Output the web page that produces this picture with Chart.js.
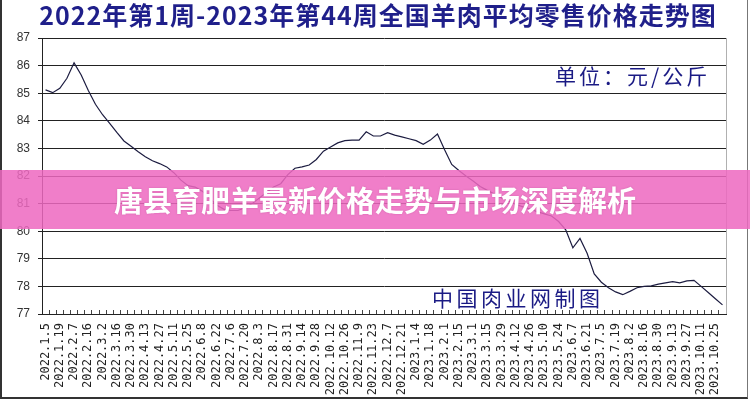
<!DOCTYPE html>
<html><head><meta charset="utf-8">
<script src="https://cdn.jsdelivr.net/npm/chart.js@4/dist/chart.umd.min.js"></script>
<style>
html,body{margin:0;padding:0;background:#fff;}
#wrap{position:relative;width:750px;height:400px;overflow:hidden;background:#fff;}
canvas{position:absolute;left:0;top:0;}
#title{position:absolute;left:0;top:2px;width:756px;text-align:center;font-family:"Noto Sans CJK SC";font-weight:700;font-size:25px;line-height:1;letter-spacing:1px;color:#1f1f8a;white-space:nowrap;}
.note{position:absolute;font-family:"Noto Sans CJK SC";color:#1a1a84;white-space:nowrap;line-height:1;}
#unit{left:555px;top:65px;font-size:21px;letter-spacing:3px;}
#src{left:432px;top:287px;font-size:21px;letter-spacing:3.5px;}
#frame{position:absolute;left:0;top:0;width:748px;height:399px;border-left:2px solid #333;border-right:1px solid #777;border-bottom:2px solid #333;box-sizing:border-box;pointer-events:none;}
#banner{position:absolute;left:0;top:170px;width:750px;height:59px;background:rgba(238,105,192,0.86);color:#fff;font-family:"Noto Sans CJK SC";font-weight:700;font-size:29px;line-height:59px;text-align:center;text-shadow:0 0 2px rgba(120,0,80,0.25);}
</style>
</head>
<body>
<div id="wrap">
<canvas id="c" width="750" height="400" style="width:750px;height:400px"></canvas>
<div id="frame"></div>
<div id="title"></div>
<div class="note" id="unit">单位：元/公斤</div>
<div class="note" id="src">中国肉业网制图</div>
<div id="banner">唐县育肥羊最新价格走势与市场深度解析</div>
</div>
<script>
const titleText = '2022年第1周-2023年第44周全国羊肉平均零售价格走势图';
const tickLabels = [
 '2022.1.5','2022.1.19','2022.2.7','2022.2.16','2022.3.2','2022.3.16','2022.3.30','2022.4.13',
 '2022.4.27','2022.5.11','2022.5.25','2022.6.8','2022.6.22','2022.7.6','2022.7.20','2022.8.3',
 '2022.8.17','2022.8.31','2022.9.14','2022.9.28','2022.10.12','2022.10.26','2022.11.9','2022.11.23',
 '2022.12.7','2022.12.21','2023.1.4','2023.1.18','2023.2.1','2023.2.15','2023.3.1','2023.3.15',
 '2023.3.29','2023.4.12','2023.4.26','2023.5.10','2023.5.24','2023.6.7','2023.6.21','2023.7.5',
 '2023.7.19','2023.8.2','2023.8.16','2023.8.30','2023.9.13','2023.9.27','2023.10.11','2023.10.25'
];
// weekly average retail price (yuan/kg), 96 weeks
const prices = [
 85.12,85.02,85.18,85.54,86.10,85.66,85.10,84.60,84.22,83.91,
 83.58,83.27,83.08,82.88,82.70,82.55,82.45,82.33,82.12,81.85,
 81.65,81.60,81.45,81.20,80.95,80.80,80.75,80.75,80.85,81.00,
 81.20,81.40,81.60,81.72,82.05,82.28,82.33,82.40,82.60,82.90,
 83.05,83.20,83.28,83.30,83.30,83.60,83.45,83.45,83.57,83.48,
 83.42,83.35,83.28,83.15,83.30,83.52,82.95,82.42,82.20,82.00,
 81.82,81.62,81.48,81.35,81.20,81.08,80.97,80.88,80.80,80.71,
 80.63,80.55,80.35,80.05,79.40,79.74,79.20,78.45,78.15,77.95,
 77.80,77.70,77.82,77.95,78.00,78.02,78.08,78.13,78.17,78.13,
 78.20,78.22,78.00,77.78,77.55,77.33
];
const yMin = 77, yMax = 87;
const categories = prices.map((_, i) => (i % 2 === 0 ? (tickLabels[i / 2] || '') : ''));
document.getElementById('title').textContent = titleText;

const rightEdge = {
  id: 'rightEdge',
  afterDraw(chart) {
    const a = chart.chartArea, c = chart.ctx;
    c.save(); c.strokeStyle = '#b0b0b0'; c.lineWidth = 1;
    c.beginPath(); c.moveTo(Math.round(a.right) + 0.5, a.top); c.lineTo(Math.round(a.right) + 0.5, a.bottom); c.stroke();
    c.restore();
  }
};

new Chart(document.getElementById('c'), {
  type: 'line',
  data: { labels: categories, datasets: [{ data: prices, borderColor: '#1c1c40', borderWidth: 1.2, pointRadius: 0, tension: 0, fill: false }] },
  options: {
    responsive: false, animation: false, devicePixelRatio: 1,
    layout: { padding: { left: 0, right: 20, top: 38, bottom: 0 } },
    plugins: { legend: { display: false }, tooltip: { enabled: false }, title: { display: false } },
    scales: {
      x: {
        offset: true,
        grid: { offset: true, drawOnChartArea: false, drawTicks: true, tickLength: -4, color: '#444', lineWidth: 1 },
        border: { display: true, color: '#222', width: 1 },
        ticks: { autoSkip: false, minRotation: 90, maxRotation: 90, padding: 13, color: '#222',
          font: { family: 'DejaVu Sans Mono', size: 12 } },
        afterFit(s) { s.height = 86; }
      },
      y: {
        min: yMin, max: yMax,
        ticks: { stepSize: 1, padding: 8, color: '#333', font: { family: 'Liberation Sans', size: 12 } },
        grid: { color: '#222', lineWidth: 1, drawTicks: true, tickLength: 4 },
        border: { display: true, color: '#222', width: 1 },
        afterFit(s) { s.width = 42; }
      }
    }
  },
  plugins: [rightEdge]
});
</script>
</body></html>
